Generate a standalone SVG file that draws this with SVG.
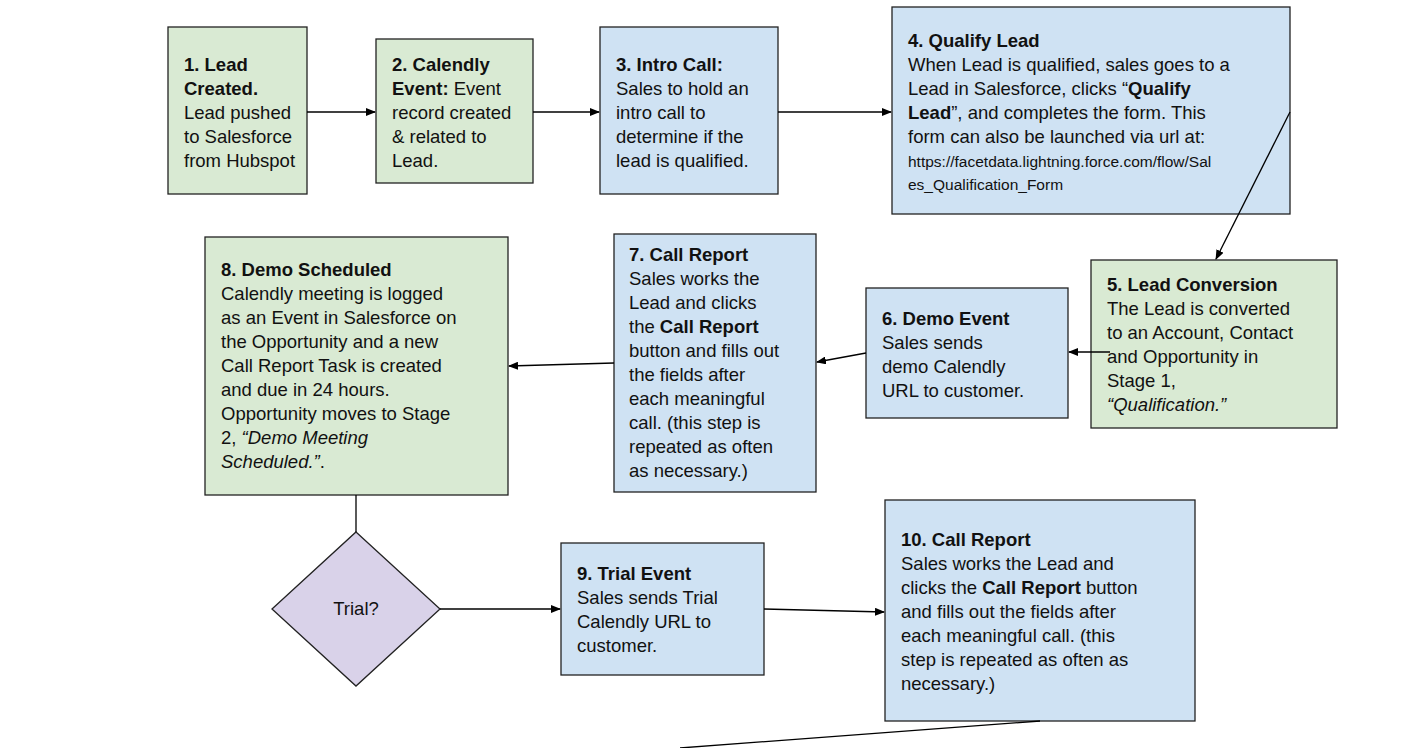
<svg xmlns="http://www.w3.org/2000/svg" width="1424" height="748" viewBox="0 0 1424 748">
<style>
.g{fill:#d9ead3;stroke:#222;stroke-width:1.3}
.b{fill:#cfe2f3;stroke:#222;stroke-width:1.3}
.p{fill:#d9d2e9;stroke:#222;stroke-width:1.3}
text{font-family:"Liberation Sans",Arial,sans-serif;font-size:18.5px;fill:#111}
.bd{font-weight:bold}
.sm{font-size:15.5px}
.c{stroke:#000;stroke-width:1.3;fill:none}
</style>
<defs><marker id="a" markerWidth="10" markerHeight="8" refX="9" refY="4" orient="auto" markerUnits="userSpaceOnUse"><path d="M0,0L10,4L0,8z" fill="#000"/></marker></defs>
<rect width="1424" height="748" fill="#fff"/>
<g id="n1"><rect class="g" x="168" y="27" width="139" height="167"/>
<text x="184" y="71"><tspan class="bd">1. Lead</tspan><tspan x="184" dy="24" class="bd">Created.</tspan><tspan x="184" dy="24">Lead pushed</tspan><tspan x="184" dy="24">to Salesforce</tspan><tspan x="184" dy="24">from Hubspot</tspan></text></g>
<g id="n2"><rect class="g" x="376" y="39" width="157" height="144"/>
<text x="392" y="71"><tspan class="bd">2. Calendly</tspan><tspan x="392" dy="24"><tspan class="bd">Event:</tspan> Event</tspan><tspan x="392" dy="24">record created</tspan><tspan x="392" dy="24">&amp; related to</tspan><tspan x="392" dy="24">Lead.</tspan></text></g>
<g id="n3"><rect class="b" x="600" y="27" width="178" height="167"/>
<text x="616" y="71"><tspan class="bd">3. Intro Call:</tspan><tspan x="616" dy="24">Sales to hold an</tspan><tspan x="616" dy="24">intro call to</tspan><tspan x="616" dy="24">determine if the</tspan><tspan x="616" dy="24">lead is qualified.</tspan></text></g>
<g id="n4"><rect class="b" x="892" y="7" width="398" height="207"/>
<text x="908" y="47"><tspan class="bd">4. Qualify Lead</tspan><tspan x="908" dy="24">When Lead is qualified, sales goes to a</tspan><tspan x="908" dy="24">Lead in Salesforce, clicks “<tspan class="bd">Qualify</tspan></tspan><tspan x="908" dy="24"><tspan class="bd">Lead</tspan>”, and completes the form. This</tspan><tspan x="908" dy="24">form can also be launched via url at:</tspan><tspan x="908" dy="24" class="sm">https://facetdata.lightning.force.com/flow/Sal</tspan><tspan x="908" dy="23" class="sm">es_Qualification_Form</tspan></text></g>
<g id="n5"><rect class="g" x="1091" y="260" width="246" height="168"/>
<text x="1107" y="291"><tspan class="bd">5. Lead Conversion</tspan><tspan x="1107" dy="24">The Lead is converted</tspan><tspan x="1107" dy="24">to an Account, Contact</tspan><tspan x="1107" dy="24">and Opportunity in</tspan><tspan x="1107" dy="24">Stage 1,</tspan><tspan x="1107" dy="24" font-style="italic">“Qualification.”</tspan></text></g>
<g id="n6"><rect class="b" x="866" y="288" width="202" height="130"/>
<text x="882" y="325"><tspan class="bd">6. Demo Event</tspan><tspan x="882" dy="24">Sales sends</tspan><tspan x="882" dy="24">demo Calendly</tspan><tspan x="882" dy="24">URL to customer.</tspan></text></g>
<g id="n7"><rect class="b" x="614" y="234" width="202" height="258"/>
<text x="629" y="261"><tspan class="bd">7. Call Report</tspan><tspan x="629" dy="24">Sales works the</tspan><tspan x="629" dy="24">Lead and clicks</tspan><tspan x="629" dy="24">the <tspan class="bd">Call Report</tspan></tspan><tspan x="629" dy="24">button and fills out</tspan><tspan x="629" dy="24">the fields after</tspan><tspan x="629" dy="24">each meaningful</tspan><tspan x="629" dy="24">call. (this step is</tspan><tspan x="629" dy="24">repeated as often</tspan><tspan x="629" dy="24">as necessary.)</tspan></text></g>
<g id="n8"><rect class="g" x="205" y="237" width="303" height="258"/>
<text x="221" y="276"><tspan class="bd">8. Demo Scheduled</tspan><tspan x="221" dy="24">Calendly meeting is logged</tspan><tspan x="221" dy="24">as an Event in Salesforce on</tspan><tspan x="221" dy="24">the Opportunity and a new</tspan><tspan x="221" dy="24">Call Report Task is created</tspan><tspan x="221" dy="24">and due in 24 hours.</tspan><tspan x="221" dy="24">Opportunity moves to Stage</tspan><tspan x="221" dy="24">2, <tspan font-style="italic">“Demo Meeting</tspan></tspan><tspan x="221" dy="24"><tspan font-style="italic">Scheduled.”</tspan>.</tspan></text></g>
<g id="trial"><path class="p" d="M356,532L440,609L356,686L272,609z"/>
<text x="356" y="615" text-anchor="middle">Trial?</text></g>
<g id="n9"><rect class="b" x="561" y="543" width="203" height="132"/>
<text x="577" y="580"><tspan class="bd">9. Trial Event</tspan><tspan x="577" dy="24">Sales sends Trial</tspan><tspan x="577" dy="24">Calendly URL to</tspan><tspan x="577" dy="24">customer.</tspan></text></g>
<g id="n10"><rect class="b" x="885" y="500" width="310" height="221"/>
<text x="901" y="546"><tspan class="bd">10. Call Report</tspan><tspan x="901" dy="24">Sales works the Lead and</tspan><tspan x="901" dy="24">clicks the <tspan class="bd">Call Report</tspan> button</tspan><tspan x="901" dy="24">and fills out the fields after</tspan><tspan x="901" dy="24">each meaningful call. (this</tspan><tspan x="901" dy="24">step is repeated as often as</tspan><tspan x="901" dy="24">necessary.)</tspan></text></g>
<g id="connectors">
<path class="c" d="M307,112H375" marker-end="url(#a)"/>
<path class="c" d="M533,112H599" marker-end="url(#a)"/>
<path class="c" d="M778,112H891" marker-end="url(#a)"/>
<path class="c" d="M1290,112L1216,259" marker-end="url(#a)"/>
<path class="c" d="M1110,352H1069" marker-end="url(#a)"/>
<path class="c" d="M866,353L817,362" marker-end="url(#a)"/>
<path class="c" d="M614,363L509,366" marker-end="url(#a)"/>
<path class="c" d="M356,495V532"/>
<path class="c" d="M440,609H560" marker-end="url(#a)"/>
<path class="c" d="M764,609L884,612" marker-end="url(#a)"/>
<path class="c" d="M1040,721L680,748"/>
</g>
</svg>
